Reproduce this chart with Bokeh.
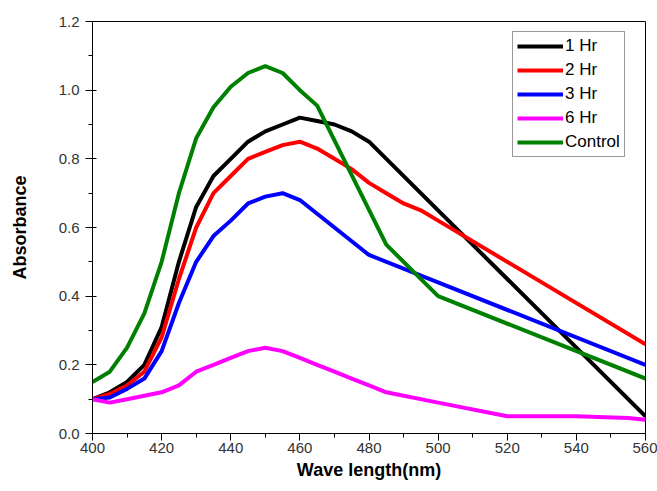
from bokeh.plotting import figure
from bokeh.models import Range1d, Legend, LegendItem, FixedTicker, PrintfTickFormatter
from bokeh.embed import file_html
from bokeh.resources import INLINE

wl_1hr = [400, 405, 410, 415, 420, 425, 430, 435, 440, 445, 450, 455, 460, 465, 470, 475, 480, 500, 520, 540, 560]
abs_1hr = [0.10, 0.12, 0.15, 0.20, 0.31, 0.50, 0.66, 0.75, 0.80, 0.85, 0.88, 0.90, 0.92, 0.91, 0.90, 0.88, 0.85, 0.65, 0.45, 0.25, 0.05]

wl_2hr = [400, 405, 410, 415, 420, 425, 430, 435, 440, 445, 450, 455, 460, 465, 470, 475, 480, 485, 490, 495, 500, 560]
abs_2hr = [0.10, 0.115, 0.14, 0.18, 0.28, 0.45, 0.60, 0.70, 0.75, 0.80, 0.82, 0.84, 0.85, 0.83, 0.80, 0.77, 0.73, 0.70, 0.67, 0.65, 0.62, 0.26]

wl_3hr = [400, 405, 410, 415, 420, 425, 430, 435, 440, 445, 450, 455, 460, 465, 470, 475, 480, 560]
abs_3hr = [0.10, 0.105, 0.13, 0.16, 0.24, 0.38, 0.50, 0.575, 0.62, 0.67, 0.69, 0.70, 0.68, 0.64, 0.60, 0.56, 0.52, 0.20]

wl_6hr = [400, 405, 410, 415, 420, 425, 430, 435, 440, 445, 450, 455, 460, 465, 470, 475, 480, 485, 500, 520, 540, 555, 560]
abs_6hr = [0.10, 0.09, 0.10, 0.11, 0.12, 0.14, 0.18, 0.20, 0.22, 0.24, 0.25, 0.24, 0.22, 0.20, 0.18, 0.16, 0.14, 0.12, 0.09, 0.05, 0.05, 0.045, 0.04]

wl_ctrl = [400, 405, 410, 415, 420, 425, 430, 435, 440, 445, 450, 455, 460, 465, 485, 500, 560]
abs_ctrl = [0.15, 0.18, 0.25, 0.35, 0.50, 0.70, 0.86, 0.95, 1.01, 1.05, 1.07, 1.05, 1.00, 0.955, 0.55, 0.40, 0.16]

series_names = ["1 Hr", "2 Hr", "3 Hr", "6 Hr", "Control"]
series_colors = ["#000000", "#FF0000", "#0000FF", "#FF00FF", "#008000"]

x_ticks = [400, 420, 440, 460, 480, 500, 520, 540, 560]
y_ticks = [0.0, 0.2, 0.4, 0.6, 0.8, 1.0, 1.2]

FONT = "Liberation Sans"

p = figure(width=657, height=491, output_backend="svg", toolbar_location=None,
           x_range=Range1d(400, 560), y_range=Range1d(0, 1.2),
           min_border_left=92, min_border_right=12, min_border_top=21, min_border_bottom=58,
           x_axis_label="Wave length(nm)", y_axis_label="Absorbance")
p.grid.visible = False
p.outline_line_color = "black"
p.outline_line_width = 1

renderers = []
for wl, ab, c in zip([wl_1hr, wl_2hr, wl_3hr, wl_6hr, wl_ctrl],
                     [abs_1hr, abs_2hr, abs_3hr, abs_6hr, abs_ctrl], series_colors):
    r = p.line(wl, ab, line_color=c, line_width=4, line_join="round")
    renderers.append(r)

xa = p.xaxis[0]
xa.ticker = FixedTicker(ticks=x_ticks, minor_ticks=list(range(400, 561, 10)))
ya = p.yaxis[0]
ya.ticker = FixedTicker(ticks=y_ticks, minor_ticks=[i / 10 for i in range(0, 13)])
ya.formatter = PrintfTickFormatter(format="%.1f")

for ax in (xa, ya):
    ax.axis_line_color = "black"
    ax.major_tick_line_color = "black"
    ax.minor_tick_line_color = "black"
    ax.major_tick_out = 7
    ax.major_tick_in = 4
    ax.minor_tick_out = 4
    ax.minor_tick_in = 0
    ax.major_label_text_font = FONT
    ax.major_label_text_font_size = "15px"
    ax.major_label_text_color = "#333333"
    ax.axis_label_text_font = FONT
    ax.axis_label_text_font_size = "18px"
    ax.axis_label_text_font_style = "bold"
    ax.axis_label_text_color = "black"

xa.major_tick_in = 0
xa.major_label_standoff = 2
xa.axis_label_standoff = 4
ya.major_label_standoff = 6
ya.axis_label_standoff = 26

items = [LegendItem(label=n, renderers=[r]) for n, r in zip(series_names, renderers)]
legend = Legend(items=items, location=(420, 276))
legend.label_text_font = FONT
legend.label_text_font_size = "17px"
legend.label_text_color = "black"
legend.glyph_width = 46
legend.glyph_height = 20
legend.label_height = 20
legend.label_standoff = 2
legend.spacing = 4
legend.padding = 4
legend.margin = 0
legend.border_line_color = "#333333"
legend.border_line_width = 1
legend.background_fill_alpha = 1
p.add_layout(legend, "center")

open("out.html", "w").write(file_html(p, INLINE))
